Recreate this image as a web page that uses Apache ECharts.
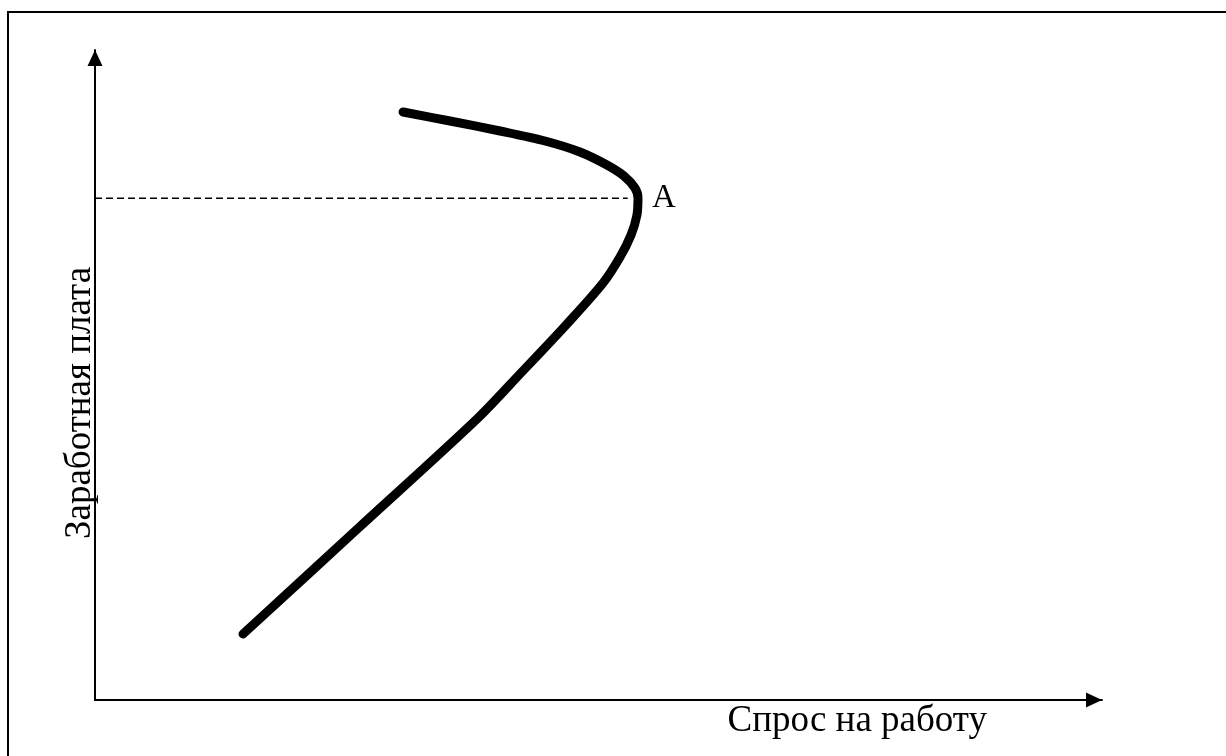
<!DOCTYPE html>
<html>
<head>
  <meta charset="utf-8">
  <script src="https://cdn.jsdelivr.net/npm/echarts@6/dist/echarts.min.js"></script>
  <style>
    html, body { margin: 0; padding: 0; background: #fff; }
    #id_chart { width: 1226px; height: 756px; }
  </style>
</head>
<body>
  <div id="id_chart"></div>
  <script type="text/javascript">
    // кривая спроса на труд (x - спрос, y - зарплата)
    var curveX = [14.70, 26.32, 37.93, 42.20, 46.87, 50.45, 52.14, 53.23, 53.82, 53.92, 53.62, 52.53, 50.84, 48.16, 44.69, 40.22, 35.25, 30.59];
    var curveY = [10.15, 26.69, 43.23, 50.15, 57.85, 64.15, 68.15, 71.54, 74.62, 77.23, 78.77, 80.62, 82.31, 84.31, 86.00, 87.54, 89.08, 90.46];
    // пунктир к точке A
    var dashX = [0, 52.9];
    var dashY = [77.2, 77.2];
    var pointA = [53.92, 77.2];
    var xName = 'Спрос на работу';
    var yName = 'Заработная плата';

    var serif = '"Liberation Serif", "Times New Roman", serif';

    var curveData = [];
    for (var i = 0; i < curveX.length; i++) {
      curveData.push([curveX[i], curveY[i]]);
    }
    var dashData = [];
    for (var j = 0; j < dashX.length; j++) {
      dashData.push([dashX[j], dashY[j]]);
    }

    // ось со стрелкой-треугольником (остриё на конце оси)
    var axisLineStyle = {
      lineStyle: { color: '#000', width: 2 },
      symbol: ['none', 'triangle'],
      symbolSize: [15, 16],
      symbolOffset: [0, -8]
    };

    var myChart = echarts.init(document.getElementById('id_chart'));
    var option = {
      animation: false,
      backgroundColor: '#fff',
      grid: { left: 95, right: 124, top: 50, bottom: 56 },
      graphic: [{
        type: 'rect',
        shape: { x: 8, y: 12, width: 1300, height: 800 },
        style: { fill: 'none', stroke: '#000', lineWidth: 2 }
      }],
      xAxis: {
        type: 'value', min: 0, max: 100,
        name: xName,
        nameLocation: 'end',
        nameGap: -115,
        nameTextStyle: { fontFamily: serif, fontSize: 37, color: '#000', align: 'right', verticalAlign: 'top', padding: [3, 0, 0, 0] },
        axisLine: axisLineStyle,
        axisTick: { show: false },
        axisLabel: { show: false },
        splitLine: { show: false }
      },
      yAxis: {
        type: 'value', min: 0, max: 100,
        name: yName,
        nameLocation: 'middle',
        nameGap: -4,
        nameRotate: 90,
        nameTextStyle: { fontFamily: serif, fontSize: 37, color: '#000', padding: [0, 56, 0, 0] },
        axisLine: axisLineStyle,
        axisTick: { show: false },
        axisLabel: { show: false },
        splitLine: { show: false }
      },
      series: [{
        type: 'line',
        data: dashData,
        symbol: 'none',
        lineStyle: { color: '#000', width: 1.5, type: [7, 4] }
      }, {
        type: 'line',
        data: curveData,
        smooth: 0.3,
        symbol: 'none',
        lineStyle: { color: '#000', width: 9, cap: 'round', join: 'round' }
      }, {
        type: 'scatter',
        data: [pointA],
        symbolSize: 0,
        itemStyle: { opacity: 1 },
        label: {
          show: true, position: 'right', distance: 14,
          formatter: 'A',
          fontFamily: serif, fontSize: 33, color: '#000', textBorderWidth: 0
        }
      }]
    };
    myChart.setOption(option);
  </script>
</body>
</html>
